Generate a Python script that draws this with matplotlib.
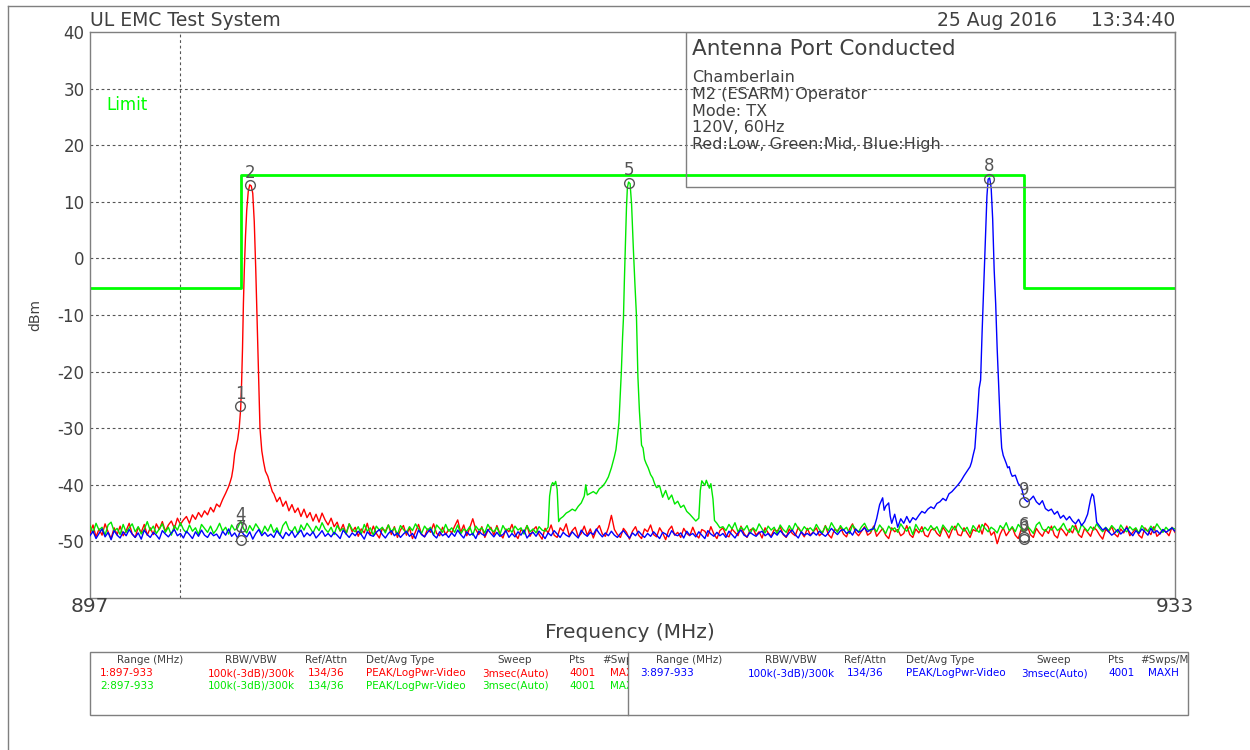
import matplotlib.pyplot as plt
import numpy as np
from matplotlib.patches import Rectangle
from matplotlib.lines import Line2D
from matplotlib.transforms import Bbox, TransformedBbox

nan = np.nan

# sweep span (MHz) and display range (dBm)
FREQ_START, FREQ_STOP = 897.0, 933.0
REF_TOP, REF_BOTTOM = 40, -60

# limit line
limit_freq = [897.0, 902.0, 902.0, 928.0, 928.0, 933.0]
limit_dbm = [-5.3, -5.3, 14.7, 14.7, -5.3, -5.3]

# coarse sweep, 0.1 MHz per point (one row = 2 MHz);
# nan where the fine points around the carrier take over
red_grid = (
    [-48.6, -47.1, -49.2, -47.8, -48.9, -46.9, -48.3, -49.5, -47.6, -48.8,
     -47.3, -49.0, -48.1, -46.8, -48.7, -49.3, -47.5, -48.4, -47.0, -48.9,
     -47.6, -48.8, -46.9, -47.9, -46.5, -48.2, -47.1, -46.4, -47.7, -45.9,
     -47.0, -46.2, -45.6, -46.8, -45.3, -46.1, -44.9, -45.7, -44.6, -45.3,
     -44.0, -44.8, -43.4, -43.9, -42.6] + [nan] * 16 +
    [-41.6, -43.0, -42.2, -43.8, -42.9, -44.6, -43.5, -44.9, -44.1,
     -45.6, -44.3, -45.8, -44.9, -46.4, -45.2, -46.6, -45.0, -46.2, -47.1,
     -45.9, -47.4, -46.6, -48.2, -47.0, -48.7, -46.9, -48.3, -47.5, -49.1,
     -47.8, -48.5, -46.8, -48.9, -47.3, -48.6, -49.4, -47.7, -48.2, -47.1,
     -48.8, -47.4, -49.3, -48.0, -47.2, -48.9, -47.6, -49.5, -48.3, -47.0,
     -48.7, -49.2, -47.8, -48.4, -46.9, -48.6, -49.0, -47.5, -48.8, -47.9,
     -48.5, -47.3, -46.2, -48.4, -47.1, -49.0, -47.6, -46.0, -47.9, -48.8,
     -47.4, -49.3, -48.1, -47.5, -48.9, -47.2, -48.6, -49.4, -47.8, -48.3,
     -47.0, -48.7, -49.5, -47.9, -48.4, -47.2, -49.1, -48.0, -47.4, -48.8,
     -49.6, -47.7, -48.5, -47.1, -48.9, -49.3, -47.6, -48.2, -46.9, -49.0,
     -48.1, -47.5, -49.2, -48.6, -47.3, -48.9, -47.8, -49.4, -48.0, -47.2,
     -48.7, -49.1, -47.6, -45.4, -47.9, -48.8, -49.3, -47.7, -48.4, -49.6,
     -48.2, -47.4, -48.9, -49.5, -47.8, -48.3, -47.1, -48.8, -49.2, -47.6,
     -48.5, -49.7, -48.0, -47.3, -48.9, -48.4, -49.3, -47.7, -48.6, -49.0,
     -47.5, -48.8, -49.4, -47.9, -48.2, -49.1, -47.4, -48.7, -49.5, -48.1,
     -47.6, -48.9, -49.2, -47.8, -48.4, -49.0, -47.3, -48.6, -49.3, -48.0,
     -47.7, -48.9, -48.3, -49.4, -47.6, -48.5, -49.1, -47.9, -48.2, -47.4,
     -48.8, -49.3, -47.8, -48.6, -49.0, -47.5, -48.4, -49.2, -47.7, -48.9,
     -48.3, -47.6, -49.0, -48.5, -47.2, -48.8, -49.4, -47.9, -48.1, -47.5,
     -48.7, -49.2, -47.8, -46.9, -48.4, -49.0, -48.2, -47.4, -48.9, -48.5,
     -47.3, -49.1, -48.4, -47.7, -48.9, -49.5, -47.6, -48.3, -47.9, -49.0,
     -48.6, -47.2, -48.8, -49.3, -47.8, -48.5, -47.4, -48.9, -49.2, -48.0,
     -47.7, -48.6, -49.1, -47.5, -48.3, -49.4, -48.0, -47.3, -48.8, -49.0,
     -47.6, -48.5, -49.3, -47.9, -48.2, -47.1, -48.7, -46.8, -47.4, -48.9,
     -48.3, -50.4, -48.7, -47.6, -49.0, -48.2, -47.5, -48.9, -49.5, -47.8,
     -48.4, -47.2, -48.8, -49.3, -47.7, -48.5, -49.1, -47.9, -48.6, -47.3,
     -48.9, -49.4, -47.6, -48.2, -49.0, -47.8, -48.5, -47.1, -48.8, -49.3,
     -47.7, -48.4, -49.1, -47.5, -48.0, -48.9, -49.6, -47.9, -48.3, -47.4,
     -48.7, -49.2, -47.8, -48.5, -47.3, -49.0, -48.4, -47.7, -48.9, -49.4,
     -47.6, -48.2, -48.8, -47.4, -49.1, -48.6, -47.9, -48.3, -49.0, -47.5,
     -48.4]
)
green_grid = (
    [-47.2, -48.5, -46.8, -48.0, -47.5, -48.9, -47.1, -46.6, -48.2, -47.7,
     -48.8, -47.0, -48.4, -47.6, -46.9, -48.3, -47.4, -48.7, -47.9, -46.5,
     -48.1, -47.3, -48.6, -47.8, -46.9, -48.4, -47.5, -48.9, -47.2, -48.0,
     -46.7, -47.9, -48.5, -47.1, -48.2, -47.6, -48.8, -47.0, -47.7, -48.4,
     -47.3, -48.6, -47.9, -46.8, -48.2, -47.5, -48.7, -47.1, -48.0, -47.6,
     -46.4, -47.8, -48.5, -47.2, -48.1, -46.9, -47.7, -48.6, -47.3, -48.2,
     -47.0, -48.4, -47.6, -48.9, -47.2, -46.5, -47.9, -48.3, -47.4, -48.7,
     -47.1, -48.0, -46.8, -47.6, -48.5, -47.3, -48.1, -46.7, -47.8, -48.4,
     -47.5, -48.8, -47.2, -48.1, -47.7, -48.6, -46.9, -47.9, -48.3, -47.4,
     -48.7, -47.0, -48.2, -47.6, -48.9, -47.3, -48.0, -47.5, -48.5, -47.1,
     -48.3, -47.6, -48.8, -47.2, -47.9, -48.5, -47.4, -48.1, -46.9, -47.8,
     -48.6, -47.3, -48.0, -47.5, -48.9, -47.1, -47.7, -48.4, -47.0, -48.2,
     -47.6, -48.4, -47.1, -48.7, -47.8, -48.2, -47.4, -48.9, -47.3, -48.0,
     -47.6, -48.5, -47.0, -47.9, -48.3, -47.5, -48.8, -47.2, -48.1, -47.7,
     -48.4, -47.3, -48.0, -47.6, -48.7, -47.2, -48.3, -47.8, -48.5, -47.4,
     -48.0] + [nan] * 59 +
    [-47.4, -48.1, -47.0, -47.8, -46.7, -48.3, -47.5, -48.0, -47.2, -48.6,
     -47.6, -48.2, -46.9, -47.8, -48.5, -47.3, -48.0, -47.5, -48.7, -47.1,
     -47.9, -48.4, -47.2, -48.1, -46.8, -47.7, -48.3, -47.4, -48.0, -47.6,
     -48.2, -47.0, -47.9, -48.5, -47.3, -48.1, -46.7, -47.6, -48.4, -47.2,
     -48.0, -47.5, -48.6, -47.1, -47.8, -48.3, -47.4, -46.8, -47.9, -48.2,
     -47.5, -48.3, -47.1, -47.8, -48.6, -47.3, -48.0, -47.6, -48.4, -46.9,
     -47.7, -48.2, -47.4, -48.8, -47.0, -47.9, -48.3, -47.5, -48.1, -47.2,
     -48.0, -47.4, -48.6, -47.1, -47.8, -48.4, -47.3, -48.0, -46.8, -47.6,
     -48.2, -47.5, -48.7, -47.2, -47.9, -48.4, -47.0, -47.7, -48.3, -47.5,
     -47.9, -48.5, -47.2, -47.8, -46.7, -48.1, -47.4, -48.3, -47.0, -47.7,
     -48.4, -47.3, -47.9, -48.6, -47.1, -46.6, -47.8, -48.2, -47.4, -48.0,
     -47.3, -48.1, -47.6, -46.8, -47.9, -48.4, -47.2, -47.8, -48.5, -47.0,
     -47.6, -48.2, -47.4, -48.0, -46.9, -47.7, -48.3, -47.5, -48.1, -47.2,
     -47.8, -48.4, -47.1, -47.9, -48.3, -47.4, -48.0, -47.6, -48.5, -47.2,
     -47.9, -48.2, -47.3, -48.0, -46.9, -47.7, -48.4, -47.5, -48.1, -47.6,
     -47.8]
)
blue_grid = (
    [-49.0, -48.2, -49.5, -48.6, -47.8, -49.2, -48.4, -49.7, -48.1, -48.9,
     -49.4, -48.3, -49.0, -47.9, -48.7, -49.3, -48.5, -49.6, -48.0, -48.8,
     -49.3, -48.4, -48.9, -49.6, -48.1, -48.7, -49.2, -48.5, -47.9, -49.0,
     -48.6, -49.4, -48.2, -48.8, -49.5, -48.3, -49.1, -48.0, -48.9, -49.3,
     -48.4, -49.0, -48.7, -49.5, -48.2, -48.9, -47.8, -49.1, -48.5, -49.4,
     -48.0, -48.8, -49.2, -48.3, -49.6, -48.6, -47.9, -49.0, -48.4, -49.1,
     -48.7, -49.3, -48.1, -48.8, -49.5, -48.4, -49.0, -48.2, -49.3, -48.6,
     -48.0, -49.2, -48.5, -49.0, -48.3, -49.4, -48.8, -48.1, -49.1, -48.6,
     -49.2, -48.4, -48.9, -49.5, -48.0, -48.7, -49.3, -48.5, -49.0, -48.2,
     -48.8, -49.6, -48.3, -48.9, -49.1, -48.4, -47.9, -48.8, -49.4, -48.6,
     -48.1, -49.0, -48.5, -49.3, -48.7, -48.2, -49.1, -48.6, -49.5, -48.0,
     -48.8, -49.2, -48.4, -47.8, -48.9, -49.4, -48.3, -49.0, -48.6, -49.3,
     -48.5, -49.1, -48.0, -48.8, -49.4, -48.3, -48.9, -48.6, -49.5, -48.2,
     -48.7, -49.0, -47.9, -48.6, -49.2, -48.4, -49.1, -48.8, -48.1, -49.3,
     -48.6, -49.2, -48.3, -48.9, -48.0, -49.4, -48.7, -48.4, -49.1, -48.2,
     -48.8, -49.5, -48.5, -49.0, -48.1, -48.7, -49.3, -48.4, -48.9, -49.2,
     -48.3, -48.9, -49.4, -48.0, -48.7, -49.1, -48.4, -48.8, -47.8, -48.6,
     -49.2, -48.5, -49.0, -48.2, -48.9, -49.3, -48.6, -48.1, -48.8, -49.4,
     -48.5, -49.0, -48.2, -48.8, -49.3, -48.6, -49.1, -48.3, -48.9, -49.5,
     -48.4, -48.7, -49.2, -48.1, -48.8, -49.0, -48.5, -49.4, -48.2, -48.9,
     -48.6, -49.2, -48.3, -48.9, -49.5, -48.1, -48.7, -49.1, -48.4, -49.0,
     -48.6, -49.3, -48.2, -48.8, -49.4, -48.5, -48.0, -48.9, -49.2, -48.4,
     -48.8, -49.1, -48.5, -48.2, -49.0, -48.6, -49.3, -48.4, -48.9, -48.1,
     -48.7, -49.2, -48.5, -48.0, -48.8, -49.4, -48.3, -48.9, -48.6, -49.0,
     -48.4, -48.9, -48.2, -48.7, -49.1, -48.5, -47.7, -48.3, -48.8, -48.1,
     -47.9, -48.6, -48.2, -48.9, -47.8, -48.4, -48.1, -47.6, -48.3, -47.9]
    + [nan] * 77 +
    [-47.6, -48.3, -48.9,
     -48.5, -47.9, -48.7, -48.2, -47.6, -48.4, -49.0, -48.1, -48.6, -47.8,
     -48.3, -48.9, -47.7, -48.5, -48.1, -48.7, -47.9, -48.4, -48.0, -47.6,
     -48.2]
)

# fine points around each carrier
red_peak_freq = [901.5, 901.6, 901.65, 901.7, 901.75, 901.8, 901.85, 901.9, 901.95,
                 902.0, 902.03, 902.06, 902.09, 902.12, 902.16, 902.2, 902.25, 902.3,
                 902.35, 902.4, 902.45, 902.5, 902.55, 902.6, 902.64, 902.7, 902.76,
                 902.82, 902.9, 902.97, 903.05]
red_peak_dbm = [-41.5, -40.3, -39.5, -38.6, -37.0, -34.5, -33.2, -32.0, -30.0,
                -26.5, -22.0, -16.0, -8.0, -2.0, 4.0, 8.5, 11.8, 13.0,
                12.8, 11.5, 6.5, -2.0, -12.0, -22.0, -30.0, -34.0, -36.0,
                -37.6, -38.5, -39.8, -41.2]

green_peak_freq = [912.1, 912.2, 912.25, 912.3, 912.35, 912.4, 912.45, 912.5, 912.55,
                   912.6, 912.7, 912.8, 912.9, 913.0, 913.1, 913.2, 913.3, 913.4,
                   913.45, 913.5, 913.6, 913.7, 913.8, 913.9, 914.0, 914.1, 914.2,
                   914.3, 914.4, 914.45, 914.5, 914.55, 914.6, 914.63, 914.67, 914.7,
                   914.73, 914.76, 914.8, 914.83, 914.87, 914.92, 914.97, 915.03, 915.08,
                   915.13, 915.18, 915.23, 915.27, 915.3, 915.35, 915.4, 915.45, 915.52,
                   915.6, 915.67, 915.74, 915.8, 915.9, 916.0, 916.1, 916.2, 916.3,
                   916.4, 916.5, 916.6, 916.7, 916.8, 916.9, 917.0, 917.1, 917.2,
                   917.25, 917.3, 917.4, 917.45, 917.55, 917.6, 917.67, 917.72, 917.8,
                   917.9]
green_peak_dbm = [-48.2, -47.5, -42.0, -40.2, -39.6, -40.0, -39.4, -40.8, -46.5,
                  -46.0, -45.6, -45.0, -44.7, -44.3, -44.6, -43.8, -43.2, -42.0,
                  -40.0, -41.8, -41.5, -41.2, -41.6, -40.7, -40.3, -39.6, -38.6,
                  -37.0, -35.0, -33.8, -31.5, -29.0, -23.5, -20.0, -14.0, -10.5,
                  -4.0, 1.5, 9.0, 12.5, 13.5, 13.2, 9.5, 1.5, -4.5,
                  -10.0, -21.0, -27.0, -30.5, -33.0, -33.5, -35.5, -36.2, -37.0,
                  -38.2, -38.8, -39.9, -40.5, -40.2, -42.2, -41.0, -42.6, -41.8,
                  -43.4, -42.9, -44.0, -43.6, -44.7, -45.2, -45.8, -46.4, -45.9,
                  -41.0, -39.3, -40.1, -39.2, -40.6, -39.8, -42.5, -46.3, -46.8,
                  -47.6]

blue_peak_freq = [923.0, 923.1, 923.2, 923.3, 923.35, 923.4, 923.5, 923.55, 923.6,
                  923.7, 923.8, 923.9, 924.0, 924.1, 924.2, 924.3, 924.4, 924.5,
                  924.6, 924.7, 924.8, 924.9, 925.0, 925.1, 925.2, 925.3, 925.4,
                  925.5, 925.6, 925.7, 925.8, 925.9, 926.0, 926.1, 926.2, 926.25,
                  926.3, 926.36, 926.4, 926.44, 926.5, 926.55, 926.6, 926.64, 926.67,
                  926.72, 926.76, 926.8, 926.85, 926.9, 926.95, 927.0, 927.05, 927.1,
                  927.15, 927.2, 927.25, 927.3, 927.35, 927.4, 927.45, 927.5, 927.55,
                  927.6, 927.7, 927.8, 927.9, 928.0, 928.1, 928.2, 928.3, 928.4,
                  928.5, 928.6, 928.7, 928.8, 928.9, 929.0, 929.1, 929.2, 929.3,
                  929.4, 929.5, 929.6, 929.7, 929.8, 929.9, 930.0, 930.1, 930.2,
                  930.25, 930.3, 930.35, 930.4, 930.5, 930.6]
blue_peak_dbm = [-47.8, -46.0, -43.5, -42.3, -44.5, -43.8, -43.2, -45.5, -46.8,
                 -45.2, -47.5, -46.0, -46.8, -45.6, -46.7, -45.8, -46.2, -45.4,
                 -44.7, -45.0, -44.3, -43.9, -44.2, -43.3, -43.0, -42.4, -42.8,
                 -41.6, -41.2, -40.6, -40.0, -39.3, -38.4, -37.6, -36.8, -36.0,
                 -34.8, -33.5, -30.5, -28.0, -23.0, -21.5, -13.0, -7.0, -3.0,
                 5.0, 11.0, 14.0, 14.2, 12.5, 7.0, -2.0, -8.0, -16.0,
                 -22.5, -29.0, -33.5, -34.8, -35.5, -36.2, -37.0, -36.8, -37.9,
                 -38.5, -38.3, -39.8, -40.4, -42.5, -43.0, -42.6, -42.0, -43.0,
                 -43.5, -42.8, -44.2, -44.6, -44.3, -45.2, -44.7, -45.9, -45.4,
                 -46.2, -45.6, -46.4, -46.9, -46.1, -47.2, -46.5, -45.2, -42.5,
                 -41.6, -42.0, -44.0, -46.6, -47.3, -48.0]

# markers: label, frequency (MHz), level (dBm)
marker_labels = ["1", "2", "5", "8", "4", "7", "9", "6", "3"]
marker_freq = [901.98, 902.3, 914.87, 926.83, 902.0, 902.0, 928.0, 928.0, 928.0]
marker_dbm = [-26.1, 12.9, 13.4, 14.1, -47.5, -49.8, -43.1, -49.3, -49.6]

# sweep settings table (the last column is cut off by the divider / frame)
left_header = ["Range (MHz)", "RBW/VBW", "Ref/Attn", "Det/Avg Type", "Sweep", "Pts", "#Swps"]
right_header = ["Range (MHz)", "RBW/VBW", "Ref/Attn", "Det/Avg Type", "Sweep", "Pts", "#Swps/Ma"]
table_rows = [
    ["1:897-933", "100k(-3dB)/300k", "134/36", "PEAK/LogPwr-Video", "3msec(Auto)", "4001", "MAXH"],
    ["2:897-933", "100k(-3dB)/300k", "134/36", "PEAK/LogPwr-Video", "3msec(Auto)", "4001", "MAXH"],
    ["3:897-933", "100k(-3dB)/300k", "134/36", "PEAK/LogPwr-Video", "3msec(Auto)", "4001", "MAXH"],
]

info_lines = ["Chamberlain", "M2 (ESARM) Operator", "Mode: TX", "120V, 60Hz",
              "Red:Low, Green:Mid, Blue:High"]

TXT = "#404040"
FRAME = "#7f7f7f"
RED, GREEN, BLUE = "#ff0000", "#00e800", "#0000ff"
LIMIT_GREEN = "#00ff00"


def build_trace(grid, peak_freq, peak_dbm):
    lv = np.array(grid, dtype=float)
    assert len(lv) == 361
    gf = np.linspace(FREQ_START, FREQ_STOP, len(lv))
    keep = ~np.isnan(lv)
    f = np.concatenate([gf[keep], peak_freq])
    l = np.concatenate([lv[keep], peak_dbm])
    order = np.argsort(f)
    return f[order], l[order]


def main():
    W, H = 1250, 750
    fig = plt.figure(figsize=(12.5, 7.5), dpi=100)
    ax = fig.add_axes([90 / W, 152 / H, 1085 / W, 566 / H])
    ax.set_xlim(FREQ_START, FREQ_STOP)
    ax.set_ylim(REF_BOTTOM, REF_TOP)

    for s in ax.spines.values():
        s.set_color(FRAME)
        s.set_linewidth(1)
    ax.set_xticks([])
    ax.set_yticks(range(-50, 41, 10))
    ax.set_yticklabels([str(v) for v in range(-50, 41, 10)], fontsize=12, color=TXT)
    ax.tick_params(axis="y", length=0, pad=4)

    for y in range(-50, 31, 10):
        ax.axhline(y, color="#555555", lw=0.8, ls=(0, (2.5, 2.5)), zorder=1)
    ax.axvline(900, color="#555555", lw=0.8, ls=(0, (2.5, 2.5)), zorder=1)

    ax.plot(limit_freq, limit_dbm, color=LIMIT_GREEN, lw=2, zorder=2)

    for grid, pf, pd, c in [(red_grid, red_peak_freq, red_peak_dbm, RED),
                            (green_grid, green_peak_freq, green_peak_dbm, GREEN),
                            (blue_grid, blue_peak_freq, blue_peak_dbm, BLUE)]:
        f, l = build_trace(grid, pf, pd)
        ax.plot(f, l, color=c, lw=1, zorder=3)

    ax.plot(marker_freq, marker_dbm, ls="none", marker="o", ms=7, mfc="none",
            mec="#555555", mew=1, zorder=4)
    for lab, f, d in zip(marker_labels, marker_freq, marker_dbm):
        ax.annotate(lab, (f, d), xytext=(0, 9), textcoords="offset points",
                    ha="center", va="center", fontsize=12, color="#555555", zorder=4)

    ax.text(0.015, (598 - 105) / 566, "Limit", transform=ax.transAxes, color=LIMIT_GREEN,
            fontsize=12, va="center", ha="left")

    # info box in the upper right of the plot
    bx0 = (686 - 90) / 1085
    by0 = (598 - 187) / 566
    ax.add_patch(Rectangle((bx0, by0), 1 - bx0, 1 - by0, transform=ax.transAxes,
                           fill=False, ec=FRAME, lw=1, zorder=5))
    fig.text(692 / W, 1 - 49 / H, "Antenna Port Conducted", fontsize=15.5, color=TXT,
             va="center", ha="left")
    for i, line in enumerate(info_lines):
        fig.text(692 / W, 1 - (78 + i * 16.5) / H, line, fontsize=11.5, color=TXT,
                 va="center", ha="left")

    # header texts
    fig.text(90 / W, 1 - 20 / H, "UL EMC Test System", fontsize=13.5, color=TXT,
             va="center", ha="left")
    fig.text(937 / W, 1 - 20 / H, "25 Aug 2016", fontsize=13.5, color=TXT,
             va="center", ha="left")
    fig.text(1175 / W, 1 - 20 / H, "13:34:40", fontsize=13.5, color=TXT,
             va="center", ha="right")
    fig.text(35 / W, 1 - 315 / H, "dBm", fontsize=10, color=TXT, rotation=90,
             va="center", ha="center")
    fig.text(90 / W, 1 - 607 / H, "897", fontsize=14.5, color=TXT, va="center", ha="center")
    fig.text(1175 / W, 1 - 607 / H, "933", fontsize=14.5, color=TXT, va="center", ha="center")
    fig.text(630 / W, 1 - 632 / H, "Frequency (MHz)", fontsize=14.5, color=TXT,
             va="center", ha="center")

    # page border
    fig.add_artist(Line2D([8 / W, 1], [1 - 6 / H, 1 - 6 / H], transform=fig.transFigure,
                          color=FRAME, lw=1))
    fig.add_artist(Line2D([8 / W, 8 / W], [0, 1 - 6 / H], transform=fig.transFigure,
                          color=FRAME, lw=1))

    # settings table at the bottom
    tx0, tx1, ty0, ty1, tdiv = 90, 1188, 652, 715, 628
    fig.add_artist(Rectangle((tx0 / W, 1 - ty1 / H), (tx1 - tx0) / W, (ty1 - ty0) / H,
                             transform=fig.transFigure, fill=False, ec=FRAME, lw=1))
    fig.add_artist(Line2D([tdiv / W, tdiv / W], [1 - ty1 / H, 1 - ty0 / H],
                          transform=fig.transFigure, color=FRAME, lw=1))

    # column anchors (x pixel, alignment) for each half
    left_cols = [(150, "center"), (251, "center"), (326, "center"), (366, "left"),
                 (515, "center"), (569, "left"), (602, "left")]
    right_cols = [(689, "center"), (791, "center"), (865, "center"), (906, "left"),
                  (1054, "center"), (1108, "left"), (1140, "left")]
    left_clip = TransformedBbox(Bbox([[tx0 / W, 0], [tdiv / W, 1]]), fig.transFigure)
    right_clip = TransformedBbox(Bbox([[tdiv / W, 0], [tx1 / W, 1]]), fig.transFigure)

    def table_text(x, y, s, ha, color, clip):
        t = fig.text(x / W, 1 - y / H, s, fontsize=7.5, color=color, va="center", ha=ha)
        t.set_clip_box(clip)
        t.set_clip_on(True)

    row_colors = [RED, GREEN, BLUE]
    halves = [(left_cols, left_clip, left_header, [0, 1], -50),
              (right_cols, right_clip, right_header, [2], -49)]
    for cols, clip, header, rows, first_shift in halves:
        for (x, ha), head in zip(cols, header):
            table_text(x, 660, head, ha, TXT, clip)
        for k, r in enumerate(rows):
            y = 673 + 13 * k
            for j, ((x, ha), val) in enumerate(zip(cols, table_rows[r])):
                if j == 0:
                    x, ha = x + first_shift, "left"
                if j == 6:
                    x = x + 8
                table_text(x, y, val, ha, row_colors[r], clip)

    fig.savefig("out.png", dpi=100)


if __name__ == "__main__":
    main()
